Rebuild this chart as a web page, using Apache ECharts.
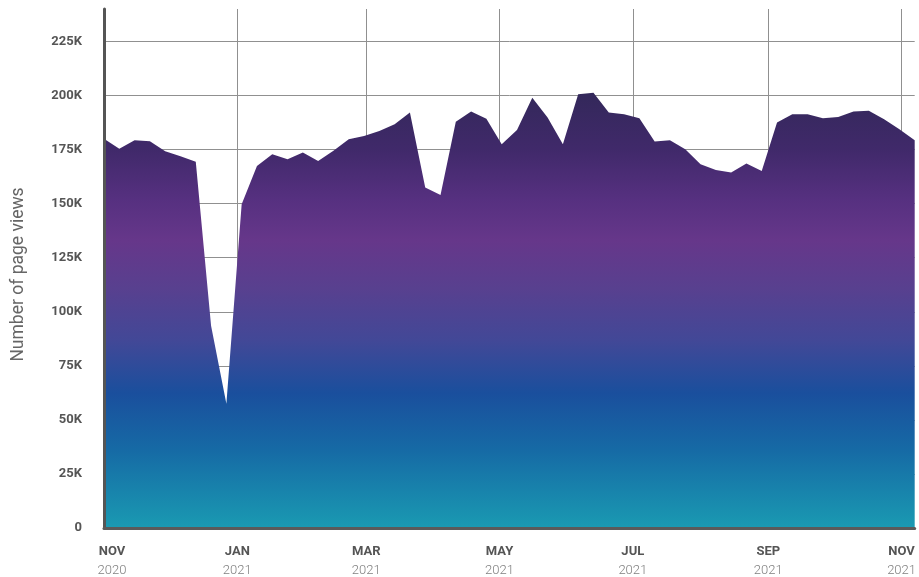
<!DOCTYPE html>
<html>
<head>
<meta charset="utf-8">
<script src="https://cdn.jsdelivr.net/npm/echarts@6/dist/echarts.min.js"></script>
<style>
  html, body { margin: 0; padding: 0; background: #fff; }
  #chart { width: 919px; height: 577px; }
</style>
</head>
<body>
<div id="chart"></div>
<script>
// weekly page views, first week starting 1 Nov 2020
const firstWeek = [2020, 10, 1];
const pageViews = [
  180000, 175400, 179300, 178800, 174200, 171900, 169400, 93500, 57500, 149700,
  167400, 172800, 170500, 173600, 169700, 174500, 179800, 181300, 183600, 186700,
  192100, 157400, 154000, 187900, 192600, 189300, 177400, 184100, 199000, 189800,
  177400, 200600, 201300, 192100, 191300, 189500, 178700, 179300, 175100, 168200,
  165600, 164400, 168500, 165100, 187500, 191300, 191300, 189500, 190100, 192600,
  193000, 189000, 184400, 179300
];
const monthTicks = ["2020-11-01", "2021-01-01", "2021-03-01", "2021-05-01", "2021-07-01", "2021-09-01", "2021-11-01"];
const monthNames = ["JAN", "FEB", "MAR", "APR", "MAY", "JUN", "JUL", "AUG", "SEP", "OCT", "NOV", "DEC"];
const yTicks = [0, 25000, 50000, 75000, 100000, 125000, 150000, 175000, 200000, 225000];

const weekDates = pageViews.map((_, i) => new Date(firstWeek[0], firstWeek[1], firstWeek[2] + i * 7).getTime());
const tickTimes = monthTicks.map(s => { const p = s.split("-"); return new Date(+p[0], +p[1] - 1, +p[2]).getTime(); });

const chart = echarts.init(document.getElementById("chart"));

chart.setOption({
  animation: false,
  textStyle: { fontFamily: "Roboto" },
  grid: { left: 104, right: 4, top: 9, bottom: 48 },
  xAxis: {
    type: "value",
    min: tickTimes[0],
    max: weekDates[weekDates.length - 1],
    z: 3,
    axisLine: { lineStyle: { color: "#5a5a5a", width: 3 } },
    axisTick: { show: false, customValues: tickTimes },
    splitLine: { show: true, lineStyle: { color: "#909090", width: 1 } },
    axisLabel: {
      customValues: tickTimes,
      margin: 14,
      hideOverlap: false,
      formatter: (value) => {
        const d = new Date(value);
        const first = value === tickTimes[0];
        const m = monthNames[d.getMonth()];
        return first ? `{mf|${m}}\n{yf|${d.getFullYear()}}` : `{m|${m}}\n{y|${d.getFullYear()}}`;
      },
      rich: {
        m: { fontFamily: "Roboto", fontWeight: "bold", fontSize: 13, color: "#555", lineHeight: 19 },
        y: { fontFamily: "Roboto", fontWeight: 300, fontSize: 13, color: "#808080", lineHeight: 19 },
        mf: { fontFamily: "Roboto", fontWeight: "bold", fontSize: 13, color: "#555", lineHeight: 19, padding: [0, 0, 0, 16] },
        yf: { fontFamily: "Roboto", fontWeight: 300, fontSize: 13, color: "#808080", lineHeight: 19, padding: [0, 0, 0, 16] }
      }
    }
  },
  yAxis: {
    type: "value",
    min: 0,
    max: 240000,
    interval: 25000,
    z: 3,
    name: "Number of page views",
    nameLocation: "middle",
    nameGap: 76,
    nameTextStyle: { fontFamily: "Roboto", fontSize: 17.5, color: "#666", padding: [0, 12, 0, 0] },
    axisLine: { show: true, lineStyle: { color: "#555", width: 3 } },
    axisTick: { show: false },
    splitLine: { show: true, showMaxLine: false, lineStyle: { color: "#909090", width: 1 } },
    axisLabel: {
      margin: 22,
      showMaxLabel: false,
      fontFamily: "Roboto",
      fontWeight: "bold",
      fontSize: 13,
      color: "#555",
      formatter: v => (yTicks.indexOf(v) < 0 ? "" : v === 0 ? "0" : v / 1000 + "K")
    }
  },
  series: [{
    type: "line",
    data: weekDates.map((t, i) => [t, pageViews[i]]),
    showSymbol: false,
    smooth: false,
    lineStyle: { width: 0, opacity: 0 },
    areaStyle: {
      opacity: 1,
      color: new echarts.graphic.LinearGradient(0, 0, 0, 1, [
        { offset: 0, color: "#33285a" },
        { offset: 0.13, color: "#40296a" },
        { offset: 0.245, color: "#563080" },
        { offset: 0.34, color: "#66378a" },
        { offset: 0.45, color: "#58408f" },
        { offset: 0.57, color: "#424897" },
        { offset: 0.69, color: "#1a4f9d" },
        { offset: 0.82, color: "#166aa5" },
        { offset: 1, color: "#1a9ab2" }
      ])
    }
  }]
});
</script>
</body>
</html>
